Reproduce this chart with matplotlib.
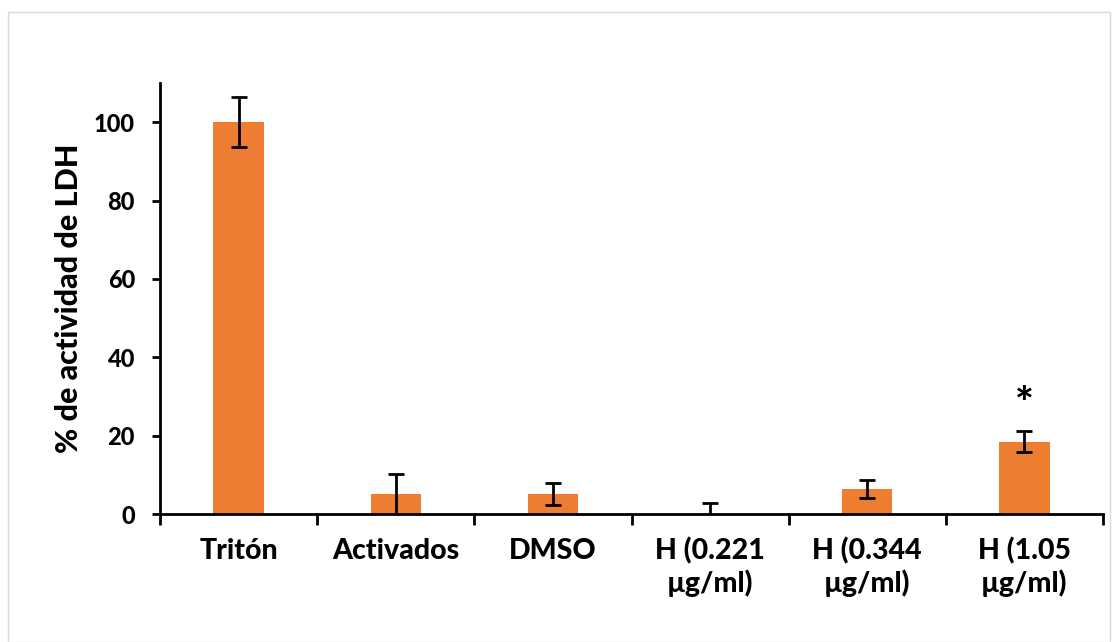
import matplotlib
matplotlib.use("Agg")
import matplotlib.pyplot as plt
from matplotlib.patches import Rectangle

categories = ["Tritón", "Activados", "DMSO", "H (0.221\nµg/ml)", "H (0.344\nµg/ml)", "H (1.05\nµg/ml)"]
values = [100.0, 5.0, 5.1, 0.0, 6.4, 18.5]
errors = [6.3, 5.2, 2.7, 2.8, 2.3, 2.7]
stars = ["", "", "", "", "", "*"]
y_ticks = [0, 20, 40, 60, 80, 100]

plt.rcParams['font.family'] = ['Lato', 'DejaVu Sans']
W = "black"

fig = plt.figure(figsize=(11.18, 6.42), dpi=100)
ax = fig.add_axes([160/1118, 1-514/642, (1103-160)/1118, (514-83)/642])

x = list(range(len(categories)))
ax.bar(x, values, width=0.32, color="#ED7D31", zorder=2)
ax.errorbar(x, values, yerr=errors, fmt="none", ecolor="black", elinewidth=2,
            capsize=6, capthick=2, zorder=3, clip_on=True)
for xi, v, e, s in zip(x, values, errors, stars):
    if s:
        ax.text(xi, v + e + 1.5, s, ha="center", va="bottom", fontsize=32, fontweight=W)

ax.set_xlim(-0.5, len(categories) - 0.5)
ax.set_ylim(0, 110)
ax.set_yticks(y_ticks)
ax.set_xticks(x)
ax.set_xticklabels(categories, fontsize=20.5, fontweight=W, linespacing=1.2)
ax.set_xticks([i + 0.5 for i in range(-1, len(categories))], minor=True)
ax.tick_params(axis="x", which="major", length=0, pad=17)
ax.tick_params(axis="x", which="minor", length=8, width=2, direction="out")
ax.tick_params(axis="y", length=6, width=2, labelsize=17, pad=12)
for lab in ax.get_yticklabels():
    lab.set_fontweight(W)
ax.set_ylabel("% de actividad de LDH", fontsize=22, fontweight=W, labelpad=8)

ax.spines["top"].set_visible(False)
ax.spines["right"].set_visible(False)
ax.spines["left"].set_linewidth(2)
ax.spines["bottom"].set_linewidth(2)

fig.patches.append(Rectangle((8/1118, 0.0), (1110-8)/1118, 1 - 12/642, transform=fig.transFigure,
                             fill=False, edgecolor="#D9D9D9", linewidth=1))

fig.savefig("out.png", dpi=100)
